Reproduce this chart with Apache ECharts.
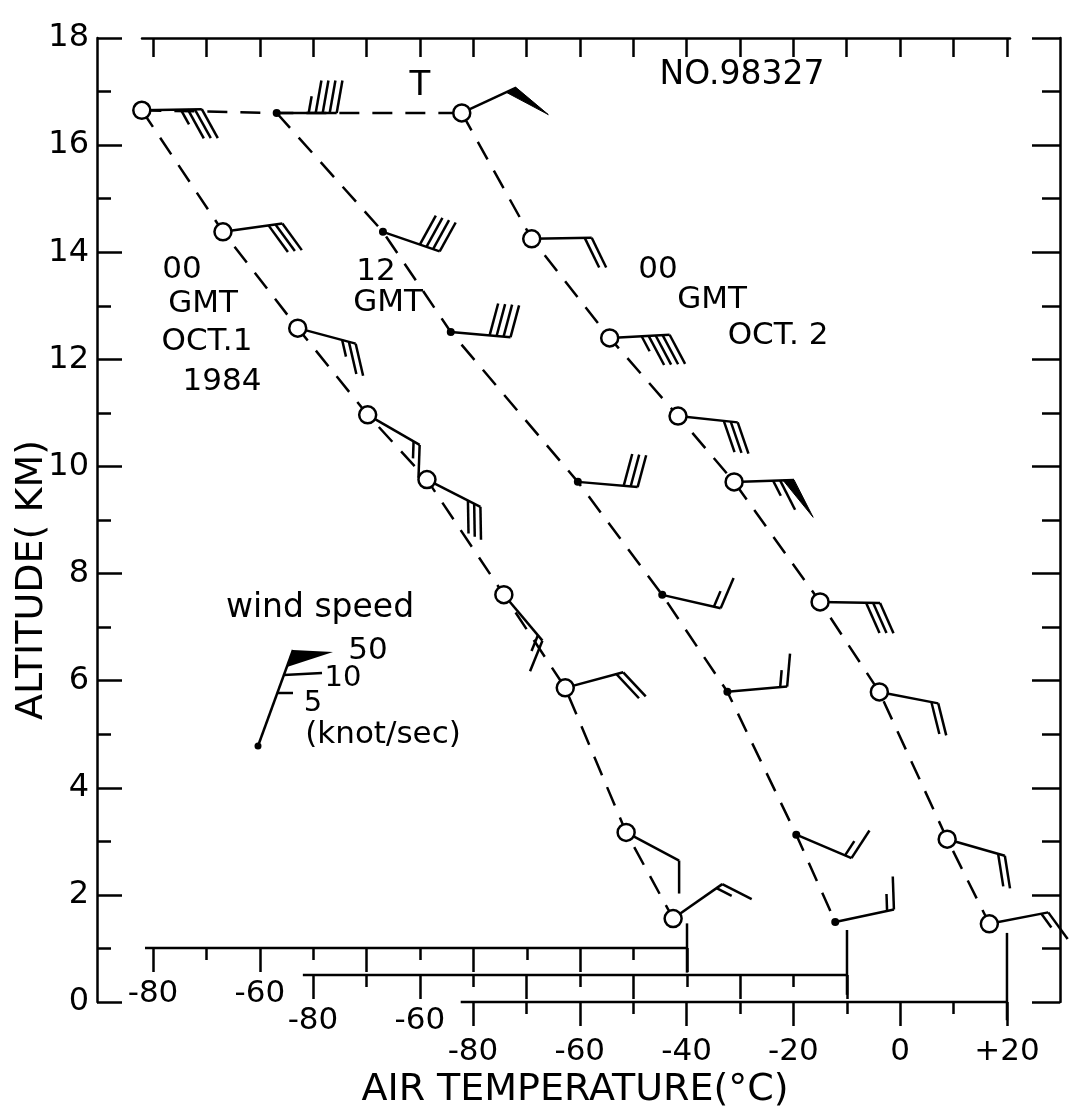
<!DOCTYPE html>
<html>
<head>
<meta charset="utf-8">
<title>NO.98327 temperature profiles</title>
<script src="https://cdn.jsdelivr.net/npm/echarts@6/dist/echarts.min.js"></script>
<style>
  html, body { margin: 0; padding: 0; background: #fff; }
  #chart { width: 1069px; height: 1116px; }
</style>
</head>
<body>
<div id="chart"></div>
<script>
  // 00 GMT Oct.1 1984 (open circles), read on the first temperature scale
  var oct1_00_alt  = [16.65, 14.38, 12.58, 10.96, 9.75, 7.60, 5.86, 3.16, 1.55];
  var oct1_00_temp = [-82.1, -66.9, -52.9, -39.8, -28.7, -14.3, -2.8, 8.6, 17.4];
  var oct1_00_wdir = [89, 82, 105, 120, 117, 140, 75, 118, 55];
  var oct1_00_wspd = [35, 30, 25, 15, 30, 15, 20, 10, 15];

  // 12 GMT Oct.1 (dots), second scale
  var oct1_12_alt  = [16.60, 14.38, 12.51, 9.71, 7.60, 5.79, 3.12, 1.49];
  var oct1_12_temp = [-86.8, -66.9, -54.2, -30.4, -14.6, -2.4, 10.5, 17.8];
  var oct1_12_wdir = [90, 109, 95, 95, 103, 85, 113, 78];
  var oct1_12_wspd = [45, 40, 40, 30, 15, 15, 15, 15];

  // 00 GMT Oct.2 (open circles), third scale
  var oct2_00_alt  = [16.60, 14.25, 12.40, 10.94, 9.71, 7.47, 5.79, 3.04, 1.46];
  var oct2_00_temp = [-82.1, -69.0, -54.4, -41.6, -31.1, -15.0, -3.9, 8.8, 16.7];
  var oct2_00_wdir = [65, 89, 87, 96, 88, 91, 101, 106, 79];
  var oct2_00_wspd = [50, 20, 45, 30, 65, 30, 20, 20, 15];

  // tick values and scale layout
  var tempMajor   = [-80, -60, -40, -20, 0, 20];
  var tempMinor   = [-70, -50, -30, -10, 10];
  var tempLabels  = [-80, -60];
  var topTicks    = [-140, -130, -120, -110, -100, -90, -80, -70, -60, -50, -40, -30, -20, -10, 0, 10, 20];
  var scaleShift  = 30;                    // each temperature scale is shifted 30 C from the next one
  var scaleStart  = [-81.5, -81.9, -82.3]; // left end of each drawn scale line
  var scaleBase   = [1, 0.5, 0];           // altitude (km) where each scale line sits
  var axisEndAlt  = [[1.46, 0.54], [1.34, 0.13], [1.29, -0.34]];

  var FONT = 'DejaVu Sans';
  var INK = '#000';
  var STAFF_LEN = 60, FULL_LEN = 33, HALF_LEN = 17, GAP = 7, FLAG_BASE = 11, FLAG_LEN = 42;

  function pairs(t, a) {
    return t.map(function (v, i) { return [v, a[i]]; });
  }
  function barbData(t, a, d, s) {
    return t.map(function (v, i) { return [v, a[i], d[i], s[i]]; });
  }

  // wind barb: staff toward the wind direction, feathers turned by `turn` degrees
  function barbRenderer(turn) {
    return function (params, api) {
      var p = api.coord([api.value(0), api.value(1)]);
      var a = (api.value(2) - 90) * Math.PI / 180;
      var ux = Math.cos(a), uy = Math.sin(a);
      var b = a + turn * Math.PI / 180;
      var fx = Math.cos(b), fy = Math.sin(b);
      var ex = p[0] + STAFF_LEN * ux, ey = p[1] + STAFF_LEN * uy;
      var st = { stroke: INK, lineWidth: 2.5, fill: null };
      var kids = [{ type: 'line', shape: { x1: p[0], y1: p[1], x2: ex, y2: ey }, style: st }];
      var rest = api.value(3), d = 0, bx, by;
      while (rest >= 50) {
        bx = ex - d * ux; by = ey - d * uy;
        kids.push({ type: 'polygon',
          shape: { points: [[bx, by], [bx - FLAG_BASE * ux, by - FLAG_BASE * uy], [bx + FLAG_LEN * fx, by + FLAG_LEN * fy]] },
          style: { fill: INK, stroke: INK, lineWidth: 1 } });
        d += FLAG_BASE + 3; rest -= 50;
      }
      while (rest >= 10) {
        bx = ex - d * ux; by = ey - d * uy;
        kids.push({ type: 'line', shape: { x1: bx, y1: by, x2: bx + FULL_LEN * fx, y2: by + FULL_LEN * fy }, style: st });
        d += GAP; rest -= 10;
      }
      if (rest >= 5) {
        bx = ex - d * ux; by = ey - d * uy;
        kids.push({ type: 'line', shape: { x1: bx, y1: by, x2: bx + HALF_LEN * fx, y2: by + HALF_LEN * fy }, style: st });
      }
      return { type: 'group', children: kids };
    };
  }

  // the three scales share the 5.34 px/C size; min/max place +20 at each scale end
  function tempAxis(grid, min, max, labels, ticks, len, margin) {
    return {
      type: 'value', gridIndex: grid, position: 'bottom', min: min, max: max,
      axisLine: { show: false },
      axisTick: { show: true, inside: false, length: len, customValues: ticks, lineStyle: { color: INK, width: 2.5 } },
      axisLabel: { show: labels.length > 0, customValues: labels, margin: margin, color: INK,
        fontFamily: FONT, fontSize: 31,
        formatter: function (v) { return v > 0 ? '+' + v : String(v); } },
      splitLine: { show: false }
    };
  }
  function hiddenY(grid, min) {
    return { type: 'value', gridIndex: grid, min: min, max: 18, show: false };
  }
  function altAxis(pos, interval, len, line, labels) {
    return {
      type: 'value', gridIndex: 0, position: pos, min: 0, max: 18, interval: interval,
      axisLine: { show: line, lineStyle: { color: INK, width: 2.5 } },
      axisTick: { show: true, inside: true, length: len, lineStyle: { color: INK, width: 2.5 } },
      axisLabel: { show: labels, margin: 8, color: INK, fontFamily: FONT, fontSize: 32 },
      splitLine: { show: false }
    };
  }
  function txt(s, x, y, size, rot) {
    return { type: 'text', x: x, y: y, rotation: rot || 0, silent: true,
      style: { text: s, fill: INK, font: size + 'px "' + FONT + '"',
        textAlign: 'center', textVerticalAlign: 'middle', align: 'center', verticalAlign: 'middle' } };
  }
  function seg(x1, y1, x2, y2) {
    return { type: 'line', silent: true, shape: { x1: x1, y1: y1, x2: x2, y2: y2 }, style: { stroke: INK, lineWidth: 2.5 } };
  }
  function solid(xi, yi, data) {
    return { type: 'line', xAxisIndex: xi, yAxisIndex: yi, clip: false, silent: true, symbol: 'none',
      lineStyle: { color: INK, width: 2.5 }, data: data };
  }

  var profileLine = { color: INK, width: 2.5, type: [20, 13] };
  var openCircle = { color: '#fff', borderColor: INK, borderWidth: 2.5 };

  var tropo = [
    [oct1_00_temp[0] - 2 * scaleShift, oct1_00_alt[0]],
    [oct1_12_temp[0] - scaleShift, oct1_12_alt[0]],
    [oct2_00_temp[0], oct2_00_alt[0]]
  ];

  var chart = echarts.init(document.getElementById('chart'), null, { renderer: 'canvas' });
  var option = {
    animation: false,
    backgroundColor: '#fff',
    grid: [
      { left: 97, right: 9, top: 38, bottom: 114 },   // frame with altitude axes
      { left: 97, right: 9, top: 38, bottom: 168 },   // first scale, line at 1 km
      { left: 97, right: 9, top: 38, bottom: 141 },   // second scale, line at 0.5 km
      { left: 97, right: 9, top: 38, bottom: 114 },   // third scale, line at 0 km
      { left: 142, right: 59, top: 9, bottom: 1078 }  // top tick row
    ],
    xAxis: [
      { type: 'value', gridIndex: 0, min: 0, max: 1, show: false },
      tempAxis(1, -90.49, 89.85, tempLabels, tempMajor, 24, 30),
      tempAxis(1, -90.49, 89.85, [], tempMinor, 12, 0),
      tempAxis(2, -120.45, 59.89, tempLabels, tempMajor, 24, 30),
      tempAxis(2, -120.45, 59.89, [], tempMinor, 12, 0),
      tempAxis(3, -150.41, 29.93, tempMajor, tempMajor, 24, 34),
      tempAxis(3, -150.41, 29.93, [], tempMinor, 12, 0),
      {
        type: 'value', gridIndex: 4, position: 'top', min: -142.1, max: 20.6,
        axisLine: { lineStyle: { color: INK, width: 2.5 } },
        axisTick: { inside: true, length: 19, customValues: topTicks, lineStyle: { color: INK, width: 2.5 } },
        axisLabel: { show: false }, splitLine: { show: false }
      }
    ],
    yAxis: [
      altAxis('left', 2, 25, true, true),
      altAxis('left', 1, 14, false, false),
      altAxis('right', 2, 28, true, false),
      altAxis('right', 1, 18, false, false),
      hiddenY(1, 1),
      hiddenY(2, 0.5),
      hiddenY(3, 0),
      { type: 'value', gridIndex: 4, show: false, min: 0, max: 1 }
    ],
    series: [
      // scale lines and their end marks
      solid(1, 4, [[scaleStart[0], scaleBase[0]], [20, scaleBase[0]]]),
      solid(3, 5, [[scaleStart[1], scaleBase[1]], [20, scaleBase[1]]]),
      solid(5, 6, [[scaleStart[2], scaleBase[2]], [20, scaleBase[2]]]),
      solid(1, 4, [[20, axisEndAlt[0][0]], [20, axisEndAlt[0][1]]]),
      solid(3, 5, [[20, axisEndAlt[1][0]], [20, axisEndAlt[1][1]]]),
      solid(5, 6, [[20, axisEndAlt[2][0]], [20, axisEndAlt[2][1]]]),

      { type: 'custom', xAxisIndex: 1, yAxisIndex: 4, clip: false, silent: true, z: 2,
        renderItem: barbRenderer(62), data: barbData(oct1_00_temp, oct1_00_alt, oct1_00_wdir, oct1_00_wspd) },
      { type: 'custom', xAxisIndex: 3, yAxisIndex: 5, clip: false, silent: true, z: 2,
        renderItem: barbRenderer(-80), data: barbData(oct1_12_temp, oct1_12_alt, oct1_12_wdir, oct1_12_wspd) },
      { type: 'custom', xAxisIndex: 5, yAxisIndex: 6, clip: false, silent: true, z: 2,
        renderItem: barbRenderer(65), data: barbData(oct2_00_temp, oct2_00_alt, oct2_00_wdir, oct2_00_wspd) },

      { type: 'line', xAxisIndex: 5, yAxisIndex: 6, clip: false, silent: true, z: 1, symbol: 'none',
        lineStyle: profileLine, data: tropo },

      { type: 'line', name: '00 GMT OCT.1', xAxisIndex: 1, yAxisIndex: 4, clip: false, silent: true, z: 3,
        symbol: 'circle', symbolSize: 17, itemStyle: openCircle, lineStyle: profileLine,
        data: pairs(oct1_00_temp, oct1_00_alt) },
      { type: 'line', name: '12 GMT', xAxisIndex: 3, yAxisIndex: 5, clip: false, silent: true, z: 3,
        symbol: 'circle', symbolSize: 8, itemStyle: { color: INK, borderWidth: 0 }, lineStyle: profileLine,
        data: pairs(oct1_12_temp, oct1_12_alt) },
      { type: 'line', name: '00 GMT OCT.2', xAxisIndex: 5, yAxisIndex: 6, clip: false, silent: true, z: 3,
        symbol: 'circle', symbolSize: 17, itemStyle: openCircle, lineStyle: profileLine,
        data: pairs(oct2_00_temp, oct2_00_alt) }
    ],
    graphic: [
      txt('NO.98327', 742, 75, 33),
      txt('T', 420, 86, 34),
      txt('00', 182, 270, 31), txt('GMT', 203, 304, 31), txt('OCT.1', 207, 342, 31), txt('1984', 222, 382, 31),
      txt('12', 376, 272, 31), txt('GMT', 388, 303, 31),
      txt('00', 658, 270, 31), txt('GMT', 712, 300, 31), txt('OCT. 2', 778, 336, 31),
      txt('wind speed', 320, 608, 33),
      txt('50', 368, 651, 31), txt('10', 343, 678, 29), txt('5', 313, 703, 29),
      txt('(knot/sec)', 383, 735, 31),
      txt('AIR TEMPERATURE(\u00B0C)', 575, 1090, 38),
      txt('ALTITUDE( KM)', 32, 580, 38, Math.PI / 2),
      // wind speed key
      seg(258, 746, 293, 650),
      { type: 'polygon', silent: true, shape: { points: [[293, 650], [333, 652], [287, 667]] }, style: { fill: INK } },
      seg(284, 675, 322, 673),
      seg(277, 693, 293, 693),
      { type: 'circle', silent: true, shape: { cx: 258, cy: 746, r: 3.5 }, style: { fill: INK } }
    ]
  };
  chart.setOption(option);
</script>
</body>
</html>
